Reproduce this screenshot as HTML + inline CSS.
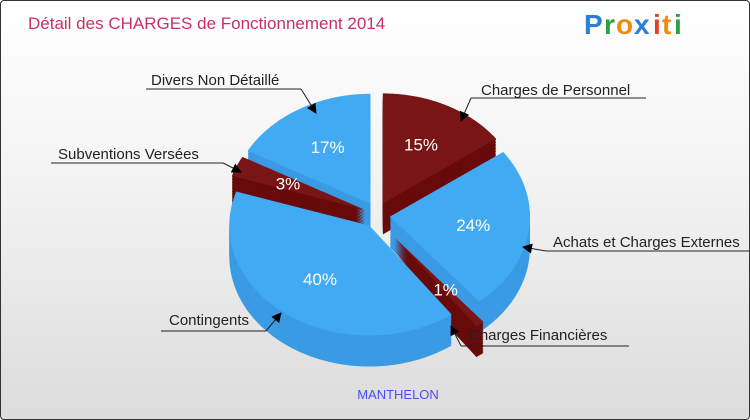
<!DOCTYPE html>
<html><head><meta charset="utf-8"><style>
html,body{margin:0;padding:0;}
body{width:750px;height:420px;overflow:hidden;font-family:"Liberation Sans","DejaVu Sans",sans-serif;}
#frame{position:absolute;left:0;top:0;width:748px;height:418px;border:1px solid #333;border-radius:4px;background:linear-gradient(#ffffff,#f4f4f4 40%,#dcdcdc);overflow:hidden;}
</style></head><body>
<div id="frame">
<svg id="svg" width="750" height="420">
<defs><marker id="ar" markerWidth="10" markerHeight="10" refX="9" refY="5" orient="auto" markerUnits="userSpaceOnUse"><path d="M0,0 L10,5 L0,10 z" fill="#000"/></marker></defs>
<text x="27" y="28" font-size="17" fill="#c8306a">Détail des CHARGES de Fonctionnement 2014</text>
<g font-size="28" font-weight="bold" font-family="'Liberation Sans',sans-serif">
<text x="583" y="33" fill="#2a7fd6">P</text><text x="603" y="33" fill="#2aa040">r</text><text x="615" y="33" fill="#f08a10">o</text><text x="633" y="33" fill="#2a7fd6">x</text><text x="652" y="33" fill="#e0402a">i</text><text x="661" y="33" fill="#f08a10">t</text><text x="673" y="33" fill="#2aa040">i</text></g>
<g id="pie"></g>
<g id="labels"></g>
<text x="397" y="398" font-size="13" fill="#4d4dff" text-anchor="middle">MANTHELON</text>
</svg></div>
<script>
const categories=["Charges de Personnel","Achats et Charges Externes","Charges Financières","Contingents","Subventions Versées","Divers Non Détaillé"];
const values=[15,24,1,40,3,17];
const sliceColors=["red","blue","red","blue","red","blue"];
const NS="http://www.w3.org/2000/svg";
const cx=376,cy=214,rx=140,ry=110,depth=31;
const topC={blue:"#42aaf2",red:"#7a1516"},sideC={blue:"#3a9be4",red:"#680a0a"};
const total=values.reduce((a,b)=>a+b,0);
let ang=-90;const sl=[];
values.forEach((v,i)=>{const s=ang,e=ang+v/total*360;ang=e;sl.push({i,s,e,m:(s+e)/2});});
function pt(ox,oy,t,f){const r=t*Math.PI/180;return [ox+f*rx*Math.cos(r),oy+f*ry*Math.sin(r)];}
function path(ox,oy,s,e){let d=`M${ox},${oy}`;for(let t=s;t<=e;t+=1){const p=pt(ox,oy,t,1);d+=`L${p[0]},${p[1]}`;}const p=pt(ox,oy,e,1);d+=`L${p[0]},${p[1]}Z`;return d;}
const pie=document.getElementById('pie');
const order=[...sl].sort((p,q)=>Math.sin(p.m*Math.PI/180)-Math.sin(q.m*Math.PI/180));
order.forEach(o=>{
  const ex=values[o.i]<2?28:13;const r=o.m*Math.PI/180;
  const ox=cx+ex*Math.cos(r),oy=cy+ex*Math.sin(r);
  const g=document.createElementNS(NS,'g');
  
  
  const c=sliceColors[o.i];
  for(let d=depth;d>0;d-=1.5){const p=document.createElementNS(NS,'path');p.setAttribute('d',path(ox,oy+d,o.s,o.e));p.setAttribute('fill',sideC[c]);g.appendChild(p);}
  const p=document.createElementNS(NS,'path');p.setAttribute('d',path(ox,oy,o.s,o.e));p.setAttribute('fill',topC[c]);g.appendChild(p);
  const lp=pt(ox,oy,o.m,0.6);
  const t=document.createElementNS(NS,'text');
  t.setAttribute('x',lp[0]);t.setAttribute('y',lp[1]+6);t.setAttribute('text-anchor','middle');t.setAttribute('font-size','17');t.setAttribute('fill','#fff');
  
  
  t.textContent=Math.round(values[o.i]/total*100)+'%';g.appendChild(t);
  pie.appendChild(g);
});
const lab=[
 {tx:480,ty:94,ul:[470,97,645],seg:[470,97,460,120]},
 {tx:552,ty:246,ul:[545,250,750],seg:[545,250,522,246]},
 {tx:468,ty:339,ul:[460,345,628],seg:[460,345,450,325]},
 {tx:168,ty:324,ul:[160,330,265],seg:[265,330,280,312]},
 {tx:57,ty:158,ul:[50,162,222],seg:[222,162,240,171]},
 {tx:150,ty:84,ul:[145,88,300],seg:[300,88,315,112]}];
const L=document.getElementById('labels');
lab.forEach((l,i)=>{
 const g=document.createElementNS(NS,'g');
 
 
 g.innerHTML=`<line x1="${l.ul[0]}" y1="${l.ul[1]}" x2="${l.ul[2]}" y2="${l.ul[1]}" stroke="#222"/><line x1="${l.seg[0]}" y1="${l.seg[1]}" x2="${l.seg[2]}" y2="${l.seg[3]}" stroke="#222" marker-end="url(#ar)"/><text x="${l.tx}" y="${l.ty}" font-size="15" fill="#222">${categories[i]}</text>`;
 L.appendChild(g);
});
</script>
</body></html>
